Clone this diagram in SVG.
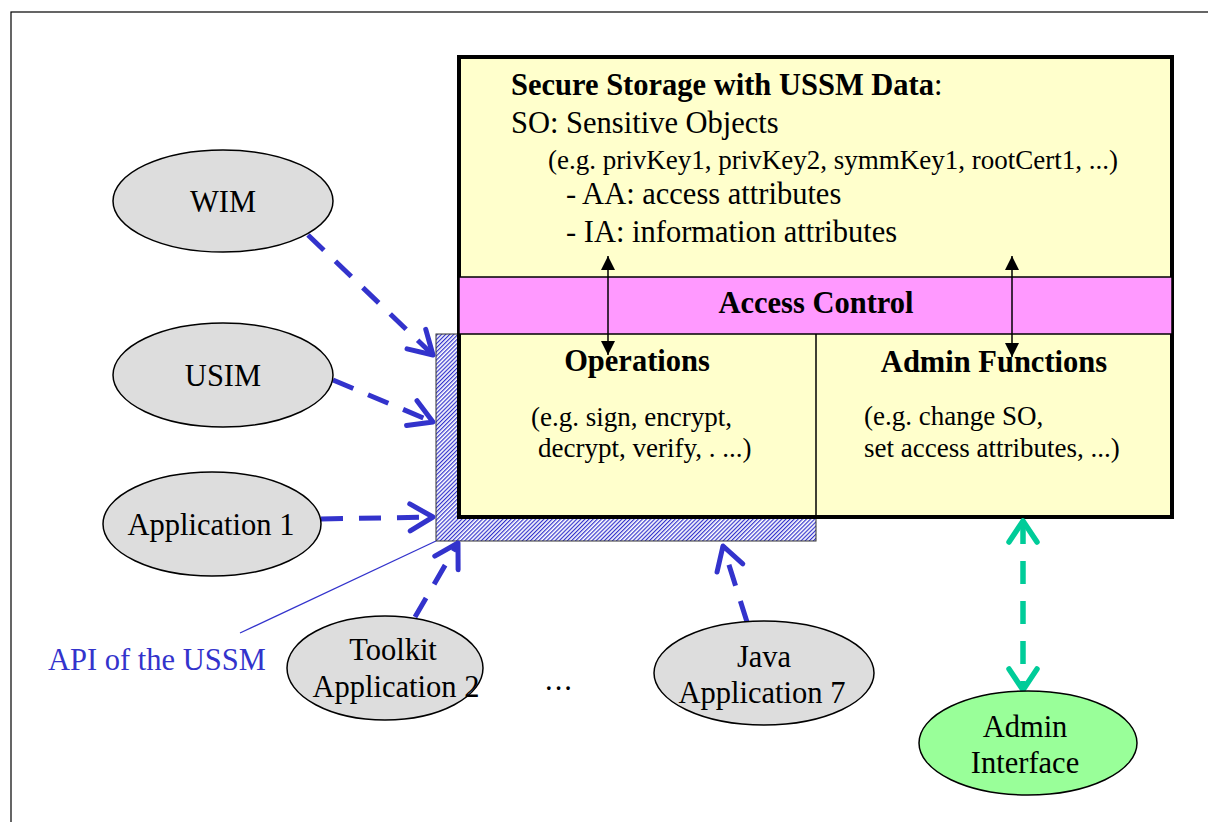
<svg xmlns="http://www.w3.org/2000/svg" width="1208" height="822" viewBox="0 0 1208 822">
<style>
text{font-family:"Liberation Serif","Times New Roman",serif;fill:#000}
.t30{font-size:30.5px}
.t27{font-size:27px}
.b{font-weight:bold}
.mid{text-anchor:middle}
.node{fill:#DDDDDD;stroke:#000;stroke-width:1.5}
.blue{fill:none;stroke:#3333CC;stroke-width:5;stroke-dasharray:22 16}
.green{fill:none;stroke:#00CC99;stroke-width:5.5;stroke-dasharray:23 17}
.thin{fill:none;stroke:#000;stroke-width:1.5}
</style>
<defs>
<pattern id="hatch" patternUnits="userSpaceOnUse" width="2.9" height="10" patternTransform="rotate(45)">
<rect width="2.9" height="10" fill="#fff"/>
<rect width="1.2" height="10" fill="#3333CC"/>
</pattern>
<marker id="ab" markerUnits="userSpaceOnUse" viewBox="-30 -20 40 40" markerWidth="40" markerHeight="40" refX="0" refY="0" orient="auto">
<path d="M-23,-13.5 L0,0 L-23,13.5" fill="none" stroke="#3333CC" stroke-width="5" stroke-linecap="round" stroke-linejoin="round"/>
</marker>
<marker id="ag" markerUnits="userSpaceOnUse" viewBox="-30 -20 40 40" markerWidth="40" markerHeight="40" refX="0" refY="0" orient="auto-start-reverse">
<path d="M-21,-14 L0,0 L-21,14" fill="none" stroke="#00CC99" stroke-width="5.5" stroke-linecap="round" stroke-linejoin="round"/>
</marker>
<marker id="ak" markerUnits="userSpaceOnUse" viewBox="-16 -10 20 20" markerWidth="20" markerHeight="20" refX="0" refY="0" orient="auto-start-reverse">
<path d="M-14,-7 L0,0 L-14,7 Z" fill="#000"/>
</marker>
</defs>
<rect x="0" y="0" width="1208" height="822" fill="#fff"/>
<rect id="frame" x="11" y="12" width="1220" height="830" fill="none" stroke="#000" stroke-width="1.2"/>

<g id="api">
<rect x="436" y="334" width="380" height="207" fill="url(#hatch)" stroke="#333" stroke-width="1"/>
</g>

<g id="ussm">
<rect x="459" y="57" width="713" height="460" fill="#FFFFCC" stroke="#000" stroke-width="4"/>
<rect x="459" y="277" width="713" height="57" fill="#FF99FF" stroke="#000" stroke-width="1.5"/>
<line x1="816" y1="334" x2="816" y2="517" class="thin"/>
<text x="511" y="95" class="t30"><tspan class="b">Secure Storage with USSM Data</tspan>:</text>
<text x="511" y="133" class="t30">SO: Sensitive Objects</text>
<text x="548" y="169" class="t27">(e.g. privKey1, privKey2, symmKey1, rootCert1, ...)</text>
<text x="566" y="204" class="t30">- AA: access attributes</text>
<text x="566" y="242" class="t30">- IA: information attributes</text>
<text x="816" y="313" class="t30 b mid">Access Control</text>
<text x="637" y="371" class="t30 b mid">Operations</text>
<text x="531" y="426" class="t27">(e.g. sign, encrypt,</text>
<text x="538" y="457" class="t27">decrypt, verify, . ...)</text>
<text x="994" y="372" class="t30 b mid">Admin Functions</text>
<text x="864" y="425" class="t27">(e.g. change SO,</text>
<text x="864" y="457" class="t27">set access attributes, ...)</text>
</g>

<g id="connectors">
<line x1="608" y1="256" x2="608" y2="355" class="thin" marker-start="url(#ak)" marker-end="url(#ak)"/>
<line x1="1012" y1="256" x2="1012" y2="357" class="thin" marker-start="url(#ak)" marker-end="url(#ak)"/>
<path d="M308,235 L433,355" class="blue" marker-end="url(#ab)"/>
<path d="M333,380 L433,422" class="blue" marker-end="url(#ab)"/>
<path d="M321,519 L433,517" class="blue" marker-end="url(#ab)"/>
<path d="M415,617 L458,543" class="blue" marker-end="url(#ab)"/>
<path d="M747,622 L723,546" class="blue" marker-end="url(#ab)"/>
<path d="M1023,521 L1023,690" class="green" marker-start="url(#ag)" marker-end="url(#ag)"/>
<line x1="436" y1="541" x2="240" y2="633" stroke="#3333CC" stroke-width="1.3"/>
</g>

<g id="wim">
<ellipse cx="223" cy="201" rx="110" ry="51" class="node"/>
<text x="223" y="212" class="t30 mid">WIM</text>
</g>
<g id="usim">
<ellipse cx="223" cy="375" rx="110" ry="52" class="node"/>
<text x="223" y="386" class="t30 mid">USIM</text>
</g>
<g id="app1">
<ellipse cx="212" cy="524" rx="109" ry="52" class="node"/>
<text x="211" y="535" class="t30 mid">Application 1</text>
</g>
<g id="toolkit">
<ellipse cx="385" cy="668" rx="98" ry="52" class="node"/>
<text x="393" y="660" class="t30 mid">Toolkit</text>
<text x="396" y="697" class="t30 mid">Application 2</text>
</g>
<g id="java">
<ellipse cx="764" cy="673" rx="110" ry="52" class="node"/>
<text x="764" y="667" class="t30 mid">Java</text>
<text x="762" y="703" class="t30 mid">Application 7</text>
</g>
<g id="admin">
<ellipse cx="1028" cy="743" rx="109" ry="52" fill="#99FF99" stroke="#000" stroke-width="1.5"/>
<text x="1025" y="737" class="t30 mid">Admin</text>
<text x="1025" y="773" class="t30 mid">Interface</text>
</g>
<g id="labels">
<text x="48" y="670" class="t30" style="fill:#3333CC">API of the USSM</text>
<text x="545" y="690" class="t30" letter-spacing="2">...</text>
</g>
</svg>
